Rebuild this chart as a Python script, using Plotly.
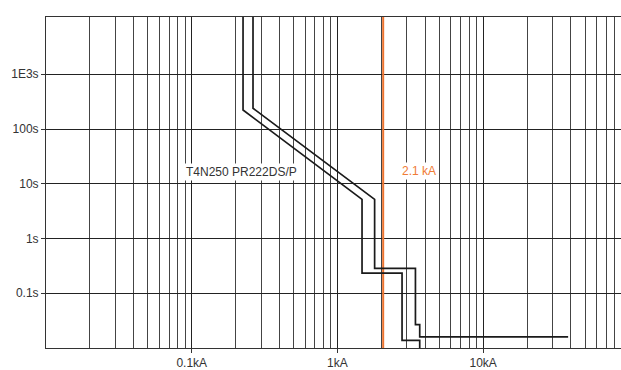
import math
import plotly.graph_objects as go

# trip curve, lower band (kA, s)
lower_ka = [0.225, 0.225, 1.475, 1.475, 2.776, 2.776, 3.67, 3.67]
lower_s = [1e5, 222, 5.17, 0.234, 0.234, 0.0138, 0.0138, 0.001]

# trip curve, upper band (kA, s)
upper_ka = [0.2634, 0.2634, 1.80, 1.80, 3.43, 3.43, 3.67, 3.67, 38.3]
upper_s = [1e5, 239, 5.17, 0.285, 0.285, 0.0267, 0.0267, 0.01595, 0.01595]

# short-circuit current marker
ik_ka = 2.06
ik_label = "2.1 kA"
curve_label = "T4N250 PR222DS/P"

x_tickvals = [0.1, 1, 10]
x_ticktext = ["0.1kA", "1kA", "10kA"]
y_tickvals = [0.1, 1, 10, 100, 1000]
y_ticktext = ["0.1s", "1s", "10s", "100s", "1E3s"]

# 2..9 gridlines in every decade
minor_x = [m * 10 ** e for e in range(-2, 2) for m in range(2, 10)]

fig = go.Figure()
fig.add_trace(go.Scatter(x=[ik_ka, ik_ka], y=[1e-3, 1e5], mode="lines",
                         line=dict(color="#EC7431", width=2), hoverinfo="skip"))
fig.add_trace(go.Scatter(x=lower_ka, y=lower_s, mode="lines",
                         line=dict(color="#1a1a1a", width=1.7)))
fig.add_trace(go.Scatter(x=upper_ka, y=upper_s, mode="lines",
                         line=dict(color="#1a1a1a", width=1.7)))

fig.add_annotation(x=math.log10(0.22), y=math.log10(16.7), text=curve_label,
                   showarrow=False, bgcolor="white",
                   font=dict(family="Liberation Sans, Arial", size=12, color="#333"))
fig.add_annotation(x=math.log10(3.64), y=math.log10(17.4), text=ik_label,
                   showarrow=False, bgcolor="white",
                   font=dict(family="Liberation Sans, Arial", size=12, color="#F07B35"))

fig.update_layout(
    width=621, height=370,
    margin=dict(t=17, l=46, r=0, b=20),
    showlegend=False,
    plot_bgcolor="white", paper_bgcolor="white",
    font=dict(family="Liberation Sans, Arial", size=12, color="#333"),
    xaxis=dict(type="log", range=[-2, 1.946],
               tickvals=x_tickvals, ticktext=x_ticktext,
               ticks="outside", ticklen=4, tickcolor="#333",
               showgrid=True, gridcolor="#222", gridwidth=1,
               minor=dict(tickvals=minor_x, showgrid=True, gridcolor="#444", ticks=""),
               showline=True, linecolor="#333", linewidth=1, mirror=True,
               zeroline=False),
    yaxis=dict(type="log", range=[-2, 4.046],
               tickvals=y_tickvals, ticktext=y_ticktext,
               ticks="outside", ticklen=4, tickcolor="#333",
               showgrid=True, gridcolor="#222", gridwidth=1,
               showline=True, linecolor="#333", linewidth=1,
               zeroline=False),
)

fig.write_html("out.html", config={"displayModeBar": False},
               post_script="document.body.style.margin='0';")
